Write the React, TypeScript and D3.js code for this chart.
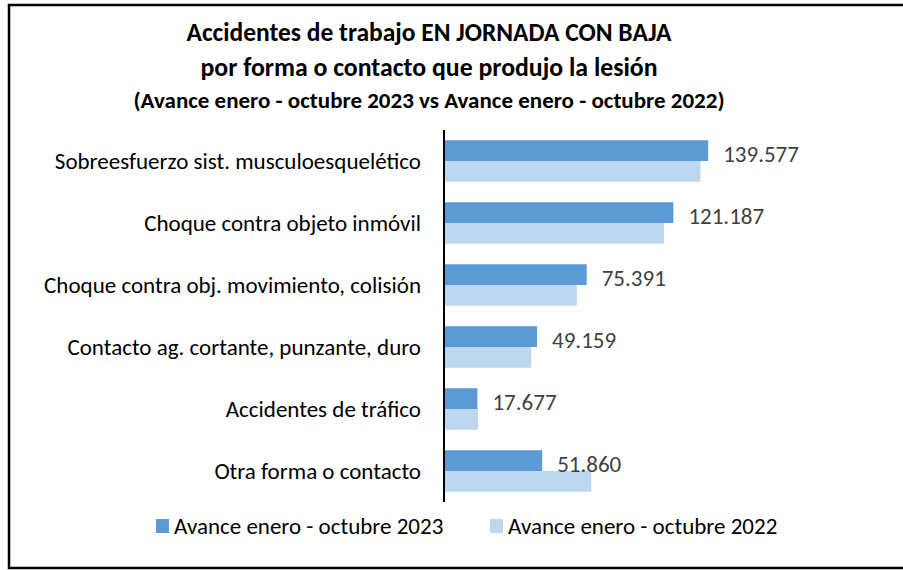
import React, { useRef, useEffect } from 'react';
import * as d3 from 'd3';

const categories = [
  'Sobreesfuerzo sist. musculoesquelético',
  'Choque contra objeto inmóvil',
  'Choque contra obj. movimiento, colisión',
  'Contacto ag. cortante, punzante, duro',
  'Accidentes de tráfico',
  'Otra forma o contacto',
];
const values2023 = [139577, 121187, 75391, 49159, 17677, 51860];
const values2022 = [135500, 116200, 70200, 46100, 18000, 77800];
const seriesNames = ['Avance enero - octubre 2023', 'Avance enero - octubre 2022'];
const titleLines = [
  'Accidentes de trabajo EN JORNADA CON BAJA',
  'por forma o contacto que produjo la lesión',
  '(Avance enero - octubre 2023 vs Avance enero - octubre 2022)',
];

const FONT = "Carlito, 'Liberation Sans Narrow', 'Open Sans', sans-serif";
const DARK = '#5b9bd5';
const LIGHT = '#bdd7ee';

const App: React.FC = () => {
  const svgRef = useRef<SVGSVGElement>(null);

  useEffect(() => {
    if (!svgRef.current) return;
    const width = 903;
    const height = 570;

    const svg = d3.select(svgRef.current)
      .attr('width', width)
      .attr('height', height)
      .style('position', 'absolute')
      .style('left', 0)
      .style('top', 0)
      .style('background', '#fff');

    svg.selectAll('*').remove();

    // frame (right edge falls outside the picture)
    svg.append('path')
      .attr('d', `M${width + 5},5 H9 V568 H${width + 5}`)
      .attr('fill', 'none')
      .attr('stroke', '#000')
      .attr('stroke-width', 2.5);

    // title
    const title = svg.append('g').attr('font-family', FONT).attr('font-weight', 'bold').attr('fill', '#000');
    const titleY = [41, 76, 108];
    const titleSize = [25.5, 25.8, 23];
    titleLines.forEach((t, i) => {
      title.append('text')
        .attr('x', 429)
        .attr('y', titleY[i])
        .attr('text-anchor', 'middle')
        .style('font-size', `${titleSize[i]}px`)
        .text(t);
    });

    const x = d3.scaleLinear().domain([0, 140000]).range([444, 709]);
    const y = d3.scaleBand<string>()
      .domain(categories)
      .range([130, 502])
      .paddingInner(0.33)
      .paddingOuter(0.165);
    const sub = d3.scaleBand<number>().domain([0, 1]).range([0, y.bandwidth()]);

    const rows = categories.map((c, i) => ({ c, v23: values2023[i], v22: values2022[i] }));

    const g = svg.append('g');

    // 2022 bars
    g.selectAll('rect.b22')
      .data(rows)
      .join('rect')
      .attr('class', 'b22')
      .attr('x', x(0))
      .attr('y', d => (y(d.c) as number) + (sub(1) as number))
      .attr('width', d => x(d.v22) - x(0))
      .attr('height', sub.bandwidth())
      .attr('fill', LIGHT);

    // 2023 bars
    g.selectAll('rect.b23')
      .data(rows)
      .join('rect')
      .attr('class', 'b23')
      .attr('x', x(0))
      .attr('y', d => (y(d.c) as number) + (sub(0) as number))
      .attr('width', d => x(d.v23) - x(0))
      .attr('height', sub.bandwidth())
      .attr('fill', DARK);

    // value labels (2023)
    g.selectAll('text.val')
      .data(rows)
      .join('text')
      .attr('class', 'val')
      .attr('x', d => x(d.v23) + 15)
      .attr('y', d => (y(d.c) as number) + (sub(0) as number) + sub.bandwidth() / 2 + 3)
      .attr('dominant-baseline', 'central')
      .style('font-family', FONT)
      .style('font-size', '23px')
      .attr('fill', '#404040')
      .text(d => d3.format(',')(d.v23).replace(/,/g, '.'));

    // category labels
    g.selectAll('text.cat')
      .data(rows)
      .join('text')
      .attr('class', 'cat')
      .attr('x', 421)
      .attr('y', d => (y(d.c) as number) + y.bandwidth() / 2)
      .attr('dominant-baseline', 'central')
      .attr('text-anchor', 'end')
      .style('font-family', FONT)
      .style('font-size', '23px')
      .attr('fill', '#000')
      .text(d => d.c);

    // axis line
    g.append('line')
      .attr('x1', 444).attr('x2', 444)
      .attr('y1', 130).attr('y2', 502)
      .attr('stroke', '#000')
      .attr('stroke-width', 2);

    // legend
    const legendX = [156, 490];
    const legend = svg.append('g');
    seriesNames.forEach((name, i) => {
      legend.append('rect')
        .attr('x', legendX[i])
        .attr('y', 519)
        .attr('width', 13)
        .attr('height', 14)
        .attr('fill', i === 0 ? DARK : LIGHT);
      legend.append('text')
        .attr('x', legendX[i] + 18)
        .attr('y', 534)
        .style('font-family', FONT)
        .style('font-size', '23px')
        .attr('fill', '#000')
        .text(name);
    });
  }, []);

  return <svg ref={svgRef}></svg>;
};

export default App;
